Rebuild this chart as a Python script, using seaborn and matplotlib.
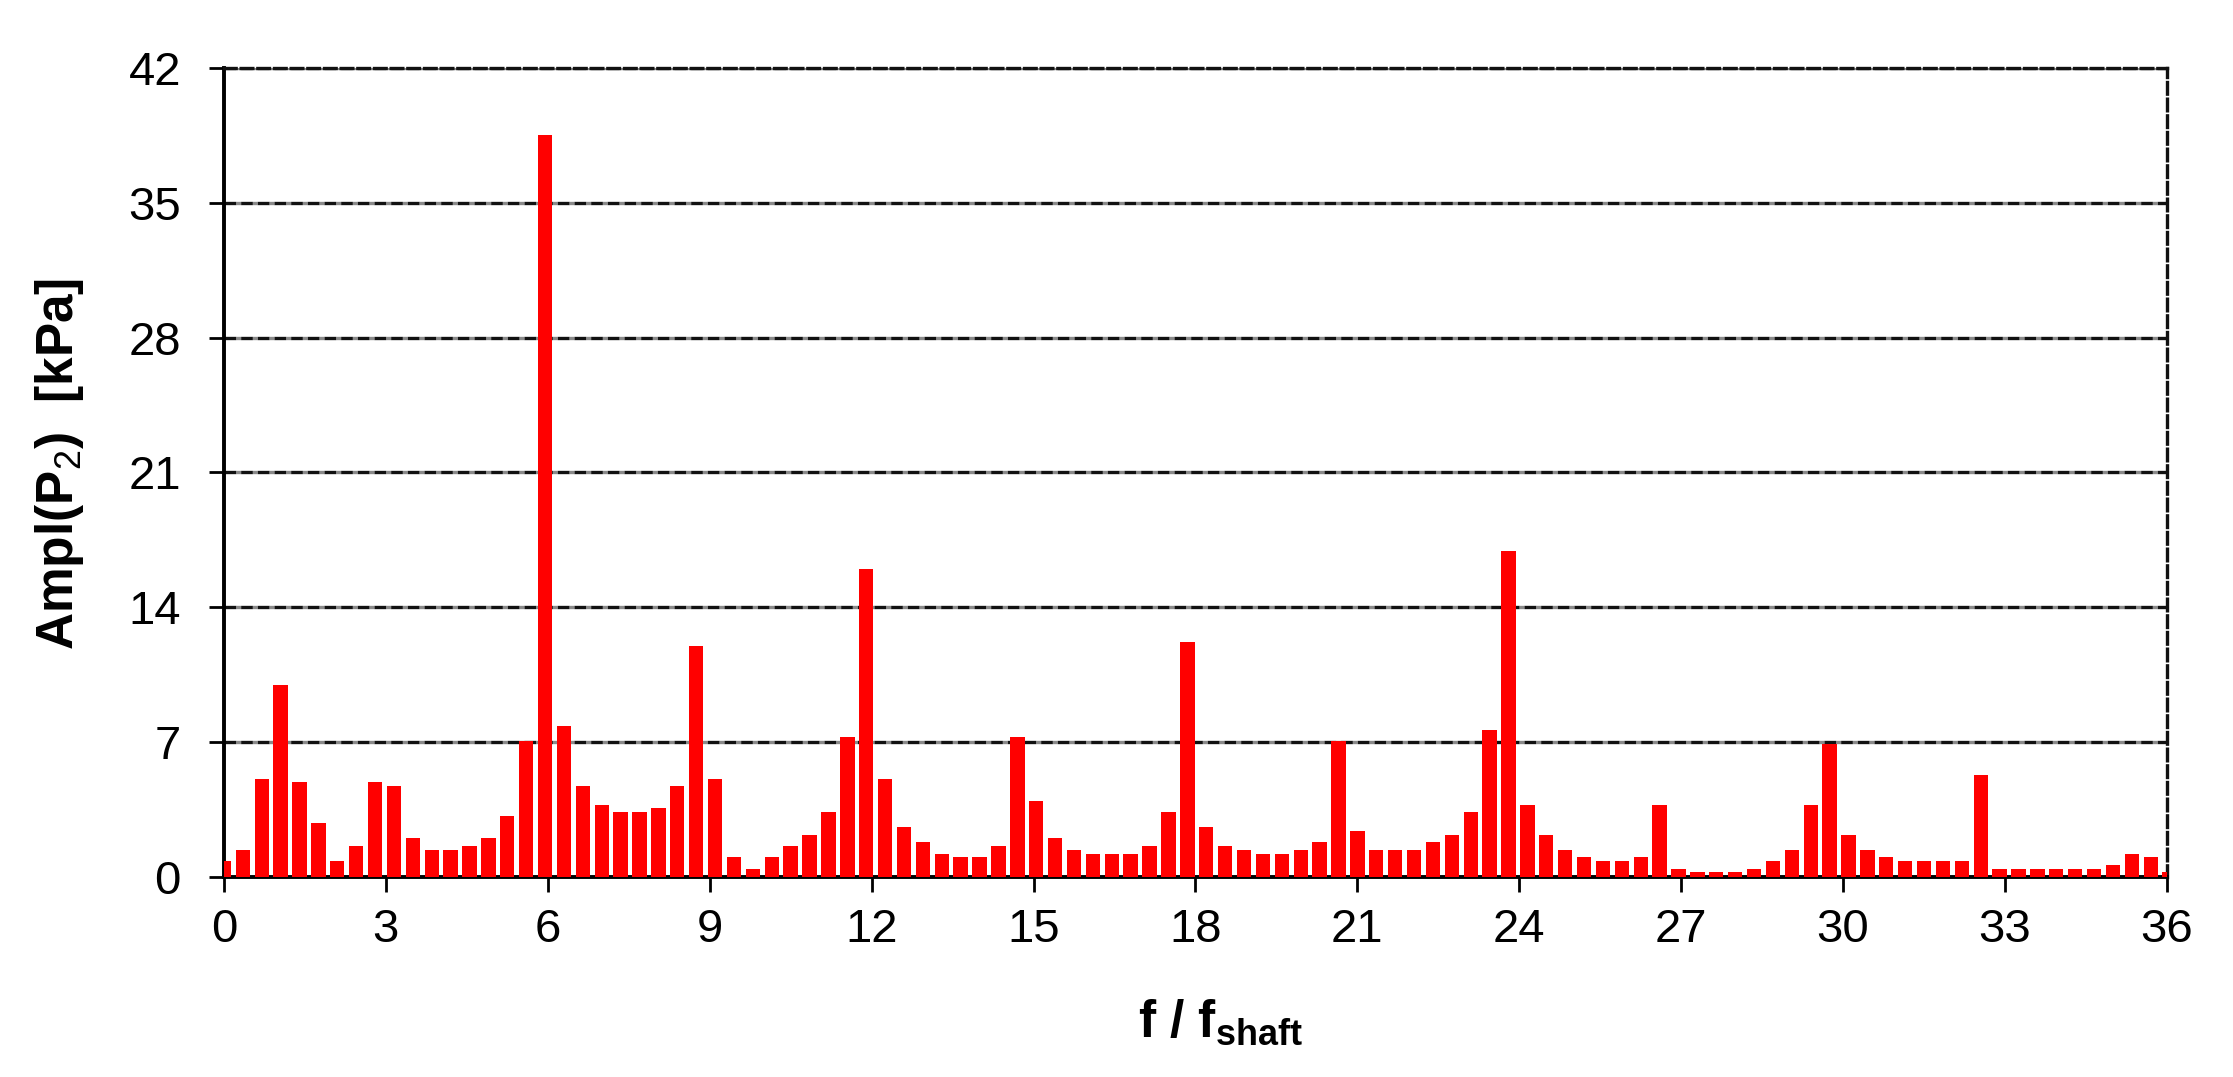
import numpy as np
import pandas as pd
import matplotlib
matplotlib.use("Agg")
import matplotlib.pyplot as plt
import seaborn as sns

# FFT spectrum of P2: bin resolution (in f / f_shaft) and amplitude per bin [kPa]
bin_step = 0.35
amp = [
    0.85, 1.41, 5.10, 9.95, 4.93, 2.79, 0.85, 1.61, 4.93, 4.74,
    2.00, 1.41, 1.41, 1.61, 2.00, 3.16, 7.07, 38.5, 7.85, 4.74,
    3.76, 3.36, 3.36, 3.57, 4.74, 12.0, 5.10, 1.03, 0.44, 1.03,
    1.61, 2.19, 3.36, 7.26, 15.97, 5.10, 2.58, 1.80, 1.22, 1.03,
    1.03, 1.61, 7.26, 3.94, 2.00, 1.41, 1.22, 1.22, 1.22, 1.61,
    3.36, 12.2, 2.58, 1.61, 1.41, 1.22, 1.22, 1.41, 1.80, 7.07,
    2.39, 1.41, 1.41, 1.41, 1.80, 2.19, 3.36, 7.63, 16.9, 3.76,
    2.19, 1.41, 1.03, 0.83, 0.83, 1.03, 3.76, 0.44, 0.25, 0.25,
    0.25, 0.44, 0.83, 1.41, 3.76, 6.88, 2.19, 1.41, 1.03, 0.83,
    0.83, 0.83, 0.83, 5.32, 0.44, 0.44, 0.44, 0.44, 0.44, 0.44,
    0.64, 1.22, 1.03, 0.25,
]
x_ticks = list(range(0, 37, 3))
y_ticks = list(range(0, 43, 7))

df = pd.DataFrame({"f": np.round(np.arange(len(amp)) * bin_step, 3), "amp": amp})

# style - set fonts after set_style so they are not overwritten
sns.set_style("white")
plt.rcParams["font.family"] = ["Liberation Sans", "DejaVu Sans"]
plt.rcParams.update({
    "mathtext.fontset": "custom",
    "mathtext.rm": "Liberation Sans",
    "mathtext.bf": "Liberation Sans:bold",
    "mathtext.it": "Liberation Sans:italic",
    "text.color": "black",
    "axes.labelcolor": "black",
    "xtick.color": "black",
    "ytick.color": "black",
})

fig, ax = plt.subplots(figsize=(22.33, 10.77), dpi=100)
fig.subplots_adjust(left=0.1003, right=0.9704, bottom=0.1857, top=0.9369)

sns.barplot(data=df, x="f", y="amp", native_scale=True, color="#ff0000",
            saturation=1, width=0.76, linewidth=0, errorbar=None, ax=ax, zorder=3)

ax.set_xlim(0, 36)
ax.set_ylim(0, 42)
ax.set_xticks(x_ticks)
ax.set_yticks(y_ticks)
ax.set_xticklabels([str(t) for t in x_ticks])
ax.set_yticklabels([str(t) for t in y_ticks])

# dashed horizontal grid
ax.set_axisbelow(True)
ax.xaxis.grid(False)
ax.yaxis.grid(True, color="#111111", linewidth=2.4, linestyle=(0, (3.5, 1.5)),
              gapcolor="#8a8a8a")

# frame: solid left/bottom, dashed top/right
for side in ["left", "bottom"]:
    ax.spines[side].set_color("black")
    ax.spines[side].set_linewidth(2.8)
for side in ["top", "right"]:
    ax.spines[side].set_color("#111111")
    ax.spines[side].set_linewidth(2.4)
    ax.spines[side].set_linestyle((0, (3.5, 1.5)))

ax.tick_params(axis="both", direction="out", length=11, width=2, color="black",
               labelcolor="black", labelsize=34, bottom=True, left=True)
ax.tick_params(axis="x", pad=11)
ax.tick_params(axis="y", pad=20)

ax.set_xlabel(r"f / f$_\mathbf{shaft}$", fontsize=37, fontweight="bold", color="black")
ax.set_ylabel(r"Ampl(P$_\mathrm{2}$)  [kPa]", fontsize=37, fontweight="bold", color="black")
ax.xaxis.set_label_coords(0.513, -0.15)
ax.yaxis.set_label_coords(-0.071, 0.51)

fig.savefig("out.png", dpi=100)
plt.close(fig)
